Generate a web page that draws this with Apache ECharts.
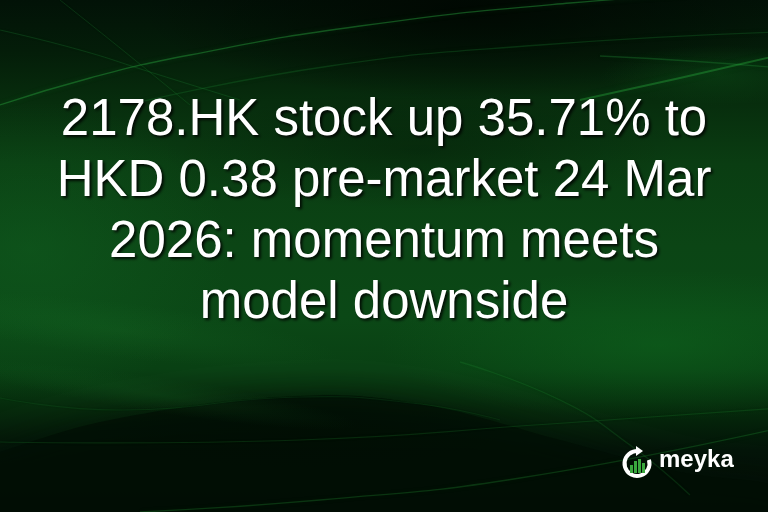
<!DOCTYPE html>
<html>
<head>
<meta charset="utf-8">
<script src="https://cdn.jsdelivr.net/npm/echarts@6/dist/echarts.min.js"></script>
<style>
html,body{margin:0;padding:0;background:#010a03;}
#chart{width:768px;height:512px;}
</style>
</head>
<body>
<div id="chart"></div>
<script>
// ---- content ----
const titleLines = [
  '2178.HK stock up 35.71% to',
  'HKD 0.38 pre-market 24 Mar',
  '2026: momentum meets',
  'model downside'
];
const brandName = 'meyka';
const logoBarHeights = [8, 12, 14, 10];

// ---- layout / style ----
const W = 768, H = 512;
const titleCenterX = 384, titleFirstY = 121, titleLineGap = 61;
const titleFont = '51px "Liberation Sans", Arial, sans-serif';

const chart = echarts.init(document.getElementById('chart'), null, {renderer: 'canvas'});

function ellipseGlow(cx, cy, rx, ry, color, rot) {
  return {
    type: 'circle',
    x: cx, y: cy, scaleX: rx / 100, scaleY: ry / 100, rotation: rot || 0,
    shape: {cx: 0, cy: 0, r: 100},
    style: {
      fill: {
        type: 'radial', x: 0.5, y: 0.5, r: 0.5,
        colorStops: [
          {offset: 0, color: color},
          {offset: 1, color: color.replace(/[\d.]+\)$/, '0)')}
        ]
      }
    },
    silent: true
  };
}
function streak(pts, color, width, blur) {
  return {
    type: 'polyline',
    shape: {points: pts, smooth: 0.5},
    style: {fill: null, stroke: color, lineWidth: width, shadowBlur: blur || 0, shadowColor: color},
    silent: true
  };
}

const bg = [];
// base vertical gradient
bg.push({
  type: 'rect', shape: {x: 0, y: 0, width: W, height: H}, silent: true,
  style: {fill: {type: 'linear', x: 0, y: 0, x2: 0, y2: 1, colorStops: [
    {offset: 0, color: '#021207'},
    {offset: 0.1, color: '#041d09'},
    {offset: 0.2, color: '#072d0d'},
    {offset: 0.32, color: '#0a3d12'},
    {offset: 0.48, color: '#0b4515'},
    {offset: 0.62, color: '#0b4816'},
    {offset: 0.72, color: '#094013'},
    {offset: 0.8, color: '#05290b'},
    {offset: 0.88, color: '#021307'},
    {offset: 1, color: '#010a03'}
  ]}}
});
// dark top center/right
bg.push(ellipseGlow(470, 10, 330, 90, 'rgba(0,6,1,0.85)'));
bg.push(ellipseGlow(420, 150, 260, 60, 'rgba(0,10,2,0.3)'));
// left glow
bg.push(ellipseGlow(30, 250, 200, 150, 'rgba(16,95,32,0.5)'));
// right lower bright
bg.push(ellipseGlow(660, 345, 280, 75, 'rgba(14,102,30,0.55)'));
bg.push(ellipseGlow(720, 75, 120, 30, 'rgba(16,110,34,0.25)'));
// dark wave bump bottom
bg.push({
  type: 'polygon', silent: true,
  shape: {points: [[-40, 470], [0, 452], [120, 418], [300, 396], [420, 404], [560, 440], [680, 472], [800, 495], [800, 540], [-40, 540]], smooth: 0.4},
  style: {fill: 'rgba(1,14,4,0.7)', shadowBlur: 30, shadowColor: 'rgba(1,14,4,0.9)'}
});
bg.push(ellipseGlow(300, 430, 220, 40, 'rgba(1,12,3,0.45)'));
// soft light bands
bg.push(ellipseGlow(120, 330, 220, 28, 'rgba(25,115,40,0.22)', -0.12));
bg.push(ellipseGlow(160, 395, 200, 18, 'rgba(25,115,40,0.18)', -0.15));

// thin streaks
bg.push(streak([[0, 105], [90, 78], [190, 55], [360, 26], [570, 3], [780, -10]], 'rgba(40,160,60,0.45)', 1.3, 5));
bg.push(streak([[140, 102], [330, 66], [540, 45], [780, 32]], 'rgba(30,130,50,0.28)', 1.3, 5));
bg.push(streak([[0, 30], [80, 50], [150, 72], [240, 100]], 'rgba(30,130,50,0.28)', 1, 3));
bg.push(streak([[60, 0], [125, 52], [190, 105]], 'rgba(30,130,50,0.25)', 1, 3));
bg.push(streak([[580, 100], [680, 78], [780, 55]], 'rgba(40,170,60,0.4)', 1.8, 7));
bg.push(streak([[600, 56], [690, 61], [780, 68]], 'rgba(40,160,60,0.28)', 1.3, 5));
bg.push(streak([[0, 398], [120, 410], [300, 397], [420, 404], [500, 420]], 'rgba(30,130,50,0.16)', 1.2, 4));
bg.push(streak([[0, 442], [300, 440], [550, 424], [780, 408]], 'rgba(35,150,55,0.2)', 1.2, 4));
bg.push(streak([[140, 512], [320, 500], [520, 478], [780, 428]], 'rgba(35,150,55,0.28)', 1.3, 5));
bg.push(streak([[460, 362], [560, 400], [630, 445], [690, 495]], 'rgba(35,150,55,0.2)', 1.3, 5));

// title text
const titleEls = titleLines.map((line, i) => ({
  type: 'text',
  x: titleCenterX,
  y: titleFirstY + i * titleLineGap,
  silent: true,
  style: {
    text: line,
    font: titleFont,
    fill: '#ffffff',
    align: 'center',
    verticalAlign: 'middle',
    textShadowColor: 'rgba(0,0,0,0.85)',
    textShadowBlur: 3,
    textShadowOffsetX: 2,
    textShadowOffsetY: 2
  }
}));

// logo
const logoCx = 637, logoCy = 463.5, logoR = 12.5;
const logoEls = [
  {
    type: 'arc', silent: true,
    shape: {cx: logoCx, cy: logoCy, r: logoR, startAngle: -0.3, endAngle: -Math.PI / 2, clockwise: true},
    style: {stroke: '#ffffff', lineWidth: 4, fill: null}
  },
  {
    type: 'polygon', silent: true,
    shape: {points: [[logoCx - 1, logoCy - logoR - 5], [logoCx - 1, logoCy - logoR + 5], [logoCx + 6, logoCy - logoR]]},
    style: {fill: '#ffffff'}
  }
];
logoBarHeights.forEach((h, i) => {
  logoEls.push({
    type: 'rect', silent: true,
    shape: {x: 630 + i * 4, y: 473 - h, width: 3, height: h},
    style: {fill: '#3aa83e'}
  });
});
logoEls.push({
  type: 'text', silent: true,
  x: 659, y: 472,
  style: {
    text: brandName,
    font: 'bold 24px "Liberation Sans", Arial, sans-serif',
    fill: '#ffffff',
    align: 'left',
    verticalAlign: 'bottom'
  }
});

chart.setOption({
  backgroundColor: '#010a03',
  animation: false,
  graphic: {elements: bg.concat(titleEls, logoEls)}
});
</script>
</body>
</html>
